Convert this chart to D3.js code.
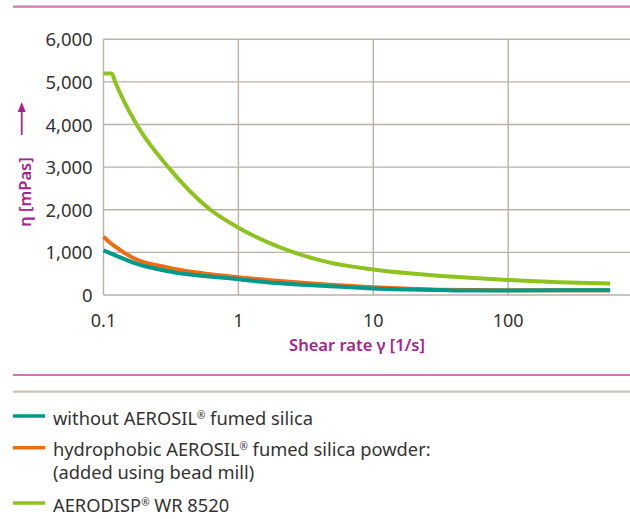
<!DOCTYPE html>
<html>
<head>
<meta charset="utf-8">
<script src="https://cdn.jsdelivr.net/npm/d3@7"></script>
<style>
  html, body { margin: 0; padding: 0; background: #fff; }
  svg { display: block; font-family: "Noto Sans", sans-serif; }
</style>
</head>
<body>
<svg id="chart" width="630" height="519"></svg>
<script>
// ---- data ----
const seriesNames = ["without", "hydrophobic", "aerodisp"];
const withoutX = [0.1, 0.133, 0.166, 0.294, 1, 2.03, 4.5, 10, 31, 52, 100, 570];
const withoutY = [1045, 883, 757, 562, 370, 273, 210, 150, 117, 106, 108, 112];
const hydrophobicX = [0.1, 0.112, 0.133, 0.166, 0.294, 1, 2.03, 4.76, 10, 31, 100, 570];
const hydrophobicY = [1367, 1226, 1055, 870, 650, 415, 328, 240, 180, 125, 112, 112];
const aerodispX = [0.1, 0.115, 0.122, 0.176, 0.302, 0.62, 1, 2.42, 4.76, 10, 52, 100, 215, 570];
const aerodispY = [5200, 5200, 5000, 4000, 3000, 2000, 1580, 1030, 760, 600, 405, 352, 305, 272];
const yTicks = [0, 1000, 2000, 3000, 4000, 5000, 6000];
const xTicks = [0.1, 1, 10, 100];
const xTickLabels = ["0.1", "1", "10", "100"];
const legendLabels = [
  ["without AEROSIL", "®", " fumed silica"],
  ["hydrophobic AEROSIL", "®", " fumed silica powder:"],
  ["AERODISP", "®", " WR 8520"]
];
const legendSecondLine = ["", "(added using bead mill)", ""];

// ---- styles ----
const colors = { without: "#009a8c", hydrophobic: "#ee6d12", aerodisp: "#8dc21f" };
const magenta = "#a2258d";
const pinkLine = "#c77ab5";
const grayLine = "#c9c3ba";
const gridColor = "#b9b1a8";
const textColor = "#333";

const svg = d3.select("#chart");

const x = d3.scaleLog().domain([0.1, 800]).range([103.5, 630]);
const y = d3.scaleLinear().domain([0, 6000]).range([295, 39.3]);

// top rule
svg.append("line").attr("x1", 13).attr("x2", 630).attr("y1", 6.7).attr("y2", 6.7)
  .attr("stroke", pinkLine).attr("stroke-width", 2.2);

// horizontal grid
svg.append("g").selectAll("line").data(yTicks).join("line")
  .attr("x1", x(0.1)).attr("x2", 630)
  .attr("y1", d => y(d)).attr("y2", d => y(d))
  .attr("stroke", gridColor).attr("stroke-width", 1.4);

// vertical grid
svg.append("g").selectAll("line").data(xTicks).join("line")
  .attr("x1", d => x(d)).attr("x2", d => x(d))
  .attr("y1", y(6000)).attr("y2", y(0))
  .attr("stroke", gridColor).attr("stroke-width", 1.4);

// y tick labels
svg.append("g").selectAll("text").data(yTicks).join("text")
  .attr("x", 92.7).attr("y", d => y(d) + 7)
  .attr("text-anchor", "end").attr("font-size", 18.5).attr("fill", textColor)
  .text(d => d3.format(",")(d));

// x tick labels
svg.append("g").selectAll("text").data(xTicks).join("text")
  .attr("x", d => x(d)).attr("y", 326.7)
  .attr("text-anchor", "middle").attr("font-size", 18).attr("fill", textColor)
  .text((d, i) => xTickLabels[i]);

// x axis title
svg.append("text").attr("x", 357).attr("y", 351)
  .attr("text-anchor", "middle").attr("font-size", 16.5).attr("font-weight", 600)
  .attr("fill", magenta).text("Shear rate γ [1/s]");

// y axis title
svg.append("text").attr("transform", "translate(31,192) rotate(-90)")
  .attr("text-anchor", "middle").attr("font-size", 16.5).attr("font-weight", 600)
  .attr("fill", magenta).text("η [mPas]");

// arrow
svg.append("line").attr("x1", 21.7).attr("x2", 21.7).attr("y1", 135).attr("y2", 110)
  .attr("stroke", magenta).attr("stroke-width", 1.8);
svg.append("path").attr("d", "M17.7,112 L21.7,102 L25.7,112 Z").attr("fill", magenta);

// curves
const line = d3.line().x(d => x(d[0])).y(d => y(d[1])).curve(d3.curveMonotoneX);
const seriesData = {
  without: d3.zip(withoutX, withoutY),
  hydrophobic: d3.zip(hydrophobicX, hydrophobicY),
  aerodisp: d3.zip(aerodispX, aerodispY)
};
["aerodisp", "hydrophobic", "without"].forEach(k => {
  svg.append("path").datum(seriesData[k]).attr("d", line)
    .attr("fill", "none").attr("stroke", colors[k]).attr("stroke-width", 4)
    .attr("stroke-linejoin", "round");
});

// legend rules
svg.append("line").attr("x1", 13).attr("x2", 630).attr("y1", 375).attr("y2", 375)
  .attr("stroke", pinkLine).attr("stroke-width", 2.2);
svg.append("line").attr("x1", 13).attr("x2", 630).attr("y1", 391.7).attr("y2", 391.7)
  .attr("stroke", grayLine).attr("stroke-width", 2.2);

const legendY = [416, 447.7, 503];
seriesNames.forEach((k, i) => {
  svg.append("line").attr("x1", 13).attr("x2", 45)
    .attr("y1", legendY[i]).attr("y2", legendY[i])
    .attr("stroke", colors[k]).attr("stroke-width", 3.5);
  const t = svg.append("text").attr("x", 53).attr("y", legendY[i] + 8.5)
    .attr("font-size", 18.3).attr("fill", textColor);
  t.append("tspan").text(legendLabels[i][0]);
  t.append("tspan").attr("font-size", 10).attr("dy", -6).text(legendLabels[i][1]);
  t.append("tspan").attr("dy", 6).text(legendLabels[i][2]);
  if (legendSecondLine[i]) {
    svg.append("text").attr("x", 53).attr("y", legendY[i] + 8.5 + 23)
      .attr("font-size", 18.3).attr("fill", textColor).text(legendSecondLine[i]);
  }
});
</script>
</body>
</html>
